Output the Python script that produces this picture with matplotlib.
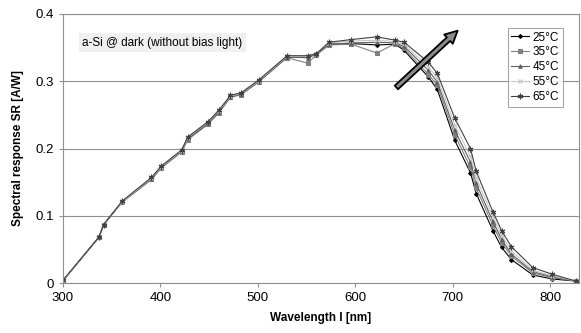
import numpy as np
import matplotlib
matplotlib.use("Agg")
import matplotlib.pyplot as plt

plt.rcParams['font.family'] = ['Liberation Sans', 'DejaVu Sans']

# wavelengths (nm), shared by all series
wl = [300, 337, 342, 361, 391, 401, 422, 428, 449, 460, 472, 483, 501, 530,
      551, 560, 573, 596, 622, 641, 650, 675, 684, 702, 718, 724, 741, 750,
      760, 782, 802, 826]

sr_25 = [0.003, 0.068, 0.087, 0.121, 0.155, 0.172, 0.196, 0.214, 0.237, 0.254,
         0.277, 0.281, 0.300, 0.336, 0.336, 0.340, 0.355, 0.356, 0.354, 0.355,
         0.346, 0.306, 0.288, 0.212, 0.164, 0.133, 0.078, 0.053, 0.035, 0.012,
         0.006, 0.003]
sr_35 = [0.003, 0.068, 0.087, 0.120, 0.154, 0.171, 0.195, 0.213, 0.236, 0.253,
         0.276, 0.280, 0.299, 0.335, 0.327, 0.339, 0.354, 0.355, 0.342, 0.356,
         0.349, 0.310, 0.294, 0.220, 0.172, 0.141, 0.086, 0.060, 0.040, 0.015,
         0.008, 0.003]
sr_45 = [0.003, 0.068, 0.087, 0.121, 0.155, 0.172, 0.196, 0.215, 0.238, 0.255,
         0.277, 0.281, 0.300, 0.336, 0.335, 0.340, 0.355, 0.357, 0.358, 0.357,
         0.352, 0.316, 0.299, 0.227, 0.180, 0.148, 0.092, 0.065, 0.043, 0.017,
         0.009, 0.003]
sr_55 = [0.003, 0.068, 0.087, 0.121, 0.156, 0.173, 0.197, 0.216, 0.239, 0.256,
         0.278, 0.282, 0.301, 0.337, 0.337, 0.341, 0.357, 0.360, 0.361, 0.359,
         0.355, 0.321, 0.305, 0.235, 0.189, 0.156, 0.099, 0.071, 0.048, 0.019,
         0.011, 0.003]
sr_65 = [0.004, 0.068, 0.087, 0.122, 0.157, 0.174, 0.198, 0.217, 0.240, 0.257,
         0.279, 0.283, 0.302, 0.338, 0.338, 0.341, 0.358, 0.362, 0.366, 0.361,
         0.358, 0.328, 0.312, 0.245, 0.200, 0.166, 0.106, 0.078, 0.054, 0.023,
         0.013, 0.003]

labels = ['25°C', '35°C', '45°C', '55°C', '65°C']
series = [sr_25, sr_35, sr_45, sr_55, sr_65]
colors = ['black', '#808080', '#606060', '#c8c8c8', '#404040']
markers = ['D', 's', '^', 'x', (6, 2, 0)]
msizes = [2, 2.5, 2.5, 3, 4]

fig = plt.figure(figsize=(5.81, 3.33), dpi=100)
ax = fig.add_axes([0.108, 0.150, 0.888, 0.808])

for y, lab, c, m, ms in zip(series, labels, colors, markers, msizes):
    ax.plot(wl, y, color=c, lw=0.8, marker=m, ms=ms, mec=c, mfc=c,
            mew=0.8, label=lab)

ax.set_xlim(300, 829)
ax.set_ylim(0, 0.4)
ax.set_xticks([300, 400, 500, 600, 700, 800])
ax.set_yticks([0, 0.1, 0.2, 0.3, 0.4])
ax.set_yticklabels(['0', '0.1', '0.2', '0.3', '0.4'])
ax.yaxis.grid(True, color='#909090', lw=0.8)
ax.set_axisbelow(True)
for s in ax.spines.values():
    s.set_color('#909090')
    s.set_linewidth(0.8)
ax.tick_params(colors='#909090', labelcolor='black', labelsize=9.5,
               length=3, width=0.8)

ax.set_xlabel('Wavelength l [nm]', fontsize=8.5, fontweight='bold', labelpad=6)
ax.set_ylabel('Spectral response SR [A/W]', fontsize=8.5, fontweight='bold',
              labelpad=8)

ax.text(320, 0.357, 'a-Si @ dark (without bias light)', fontsize=8.5,
        va='center', ha='left',
        bbox=dict(fc='#f0f0f0', ec='none', pad=2.5))

ax.annotate('', xy=(707, 0.378), xytext=(640, 0.288),
            arrowprops=dict(arrowstyle='simple,head_width=0.9,head_length=0.9,tail_width=0.35',
                            fc='#8a8a8a', ec='black', lw=1.3))

leg = ax.legend(loc='upper right', bbox_to_anchor=(0.969, 0.948),
                fontsize=8.5, frameon=True, fancybox=False,
                handlelength=1.5, handletextpad=0.3, labelspacing=0.25,
                borderpad=0.3, borderaxespad=0)
leg.get_frame().set_edgecolor('#909090')
leg.get_frame().set_linewidth(0.8)

fig.savefig('out.png', dpi=100)
